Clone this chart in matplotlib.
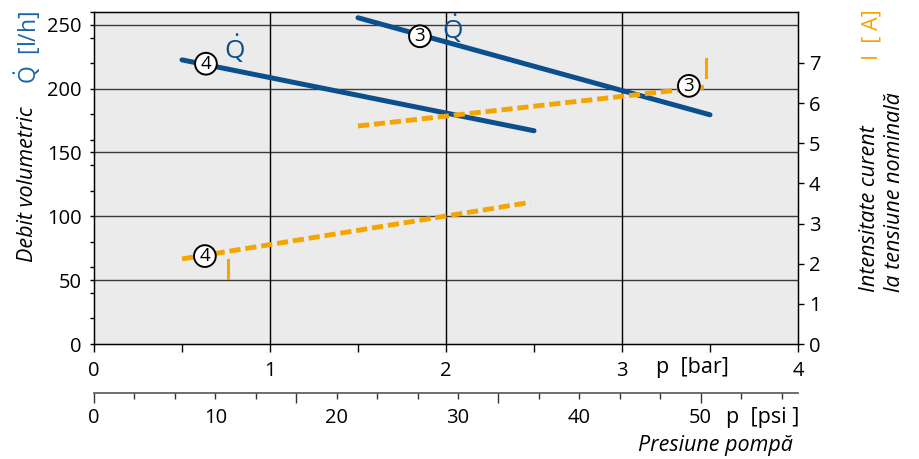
import numpy as np
import matplotlib
matplotlib.use('Agg')
import matplotlib.pyplot as plt
from matplotlib.ticker import FixedLocator, NullFormatter

plt.rcParams['font.family'] = ['Open Sans', 'DejaVu Sans']
plt.rcParams['mathtext.fontset'] = 'custom'
plt.rcParams['mathtext.rm'] = 'Open Sans'
plt.rcParams['mathtext.it'] = 'Open Sans:italic'

BLUE = '#0b4f8c'
ORANGE = '#f5a500'
GRAY_BG = '#ebebeb'
PSI_PER_BAR = 14.5038
TICK_FS = 14.5
LABEL_FS = 15.5

# Flow rate (l/h) vs pump pressure (bar), pumps 3 and 4
p_flow_3 = [1.5, 3.5]
flow_3 = [255.5, 179.5]
p_flow_4 = [0.5, 2.5]
flow_4 = [222.5, 167.0]

# Current (A) at nominal voltage
p_cur_3 = [1.5, 3.47]
cur_3 = [5.43, 6.40]
p_cur_4 = [0.5, 2.48]
cur_4 = [2.12, 3.53]

# Short vertical marks (max pressure)
p_mark_3 = [3.48, 3.48]
cur_mark_3 = [6.65, 7.10]
p_mark_4 = [0.76, 0.76]
cur_mark_4 = [1.64, 2.09]

# Axis ticks
flow_ticks = [0, 50, 100, 150, 200, 250]
cur_ticks = [0, 1, 2, 3, 4, 5, 6, 7]
bar_ticks = [0, 1, 2, 3, 4]
psi_labels = [0, 10, 20, 30, 40, 50]


def circle_label(ax, x, y, s):
    ax.text(x, y, s, fontsize=13.5, ha='center', va='center', zorder=6,
            bbox=dict(boxstyle='circle,pad=0.1', fc='white', ec='black', lw=1.4))


fig = plt.figure(figsize=(9.2, 4.59), dpi=100)
ax = fig.add_axes([94 / 920, 115 / 459, 704 / 920, 332 / 459])
ax.set_facecolor(GRAY_BG)
ax.set_xlim(0, 4)
ax.set_ylim(0, 260)

# grid
for v in flow_ticks[1:]:
    ax.axhline(v, color='#3a3a3a', lw=1.0, zorder=1)
for v in bar_ticks[1:-1]:
    ax.axvline(v, color='black', lw=1.0, zorder=1)

ax.plot(p_flow_3, flow_3, color=BLUE, lw=3.6, solid_capstyle='round', zorder=3)
ax.plot(p_flow_4, flow_4, color=BLUE, lw=3.6, solid_capstyle='round', zorder=3)

ax.set_yticks(flow_ticks)
ax.yaxis.set_minor_locator(FixedLocator(np.arange(0, 261, 20)))
ax.tick_params(axis='y', which='both', direction='out', length=3, width=1, pad=6,
               labelsize=TICK_FS)
ax.set_xticks(bar_ticks)
ax.xaxis.set_minor_locator(FixedLocator([0.5, 1.5, 2.5, 3.5]))
ax.tick_params(axis='x', which='both', direction='out', length=6, width=1, pad=6,
               labelsize=TICK_FS)
for sp in ax.spines.values():
    sp.set_linewidth(1.0)

# right axis: current
ax2 = ax.twinx()
ax2.set_ylim(0, 8.27)
ax2.plot(p_cur_3, cur_3, color=ORANGE, lw=3.5, dashes=(2.3, 1.0), zorder=4)
ax2.plot(p_cur_4, cur_4, color=ORANGE, lw=3.5, dashes=(2.3, 1.0), zorder=4)
ax2.plot(p_mark_3, cur_mark_3, color=ORANGE, lw=2.2, zorder=4)
ax2.plot(p_mark_4, cur_mark_4, color=ORANGE, lw=2.2, zorder=4)
ax2.set_yticks(cur_ticks)
ax2.tick_params(axis='y', direction='out', length=4, width=1, pad=4, labelsize=TICK_FS)

# circled curve numbers and Q-dot symbols
circle_label(ax, 0.636, 219.5, '4')
circle_label(ax, 1.852, 241, '3')
circle_label(ax2, 0.63, 2.19, '4')
circle_label(ax2, 3.38, 6.43, '3')
ax.text(0.80, 231, r'$\dot{\mathrm{Q}}$', color=BLUE, fontsize=19, ha='center', va='center')
ax.text(2.035, 247, r'$\dot{\mathrm{Q}}$', color=BLUE, fontsize=19, ha='center', va='center')

# psi axis underneath
sec = ax.secondary_xaxis((344 - 393) / 332,
                         functions=(lambda b: b * PSI_PER_BAR, lambda p: p / PSI_PER_BAR))
sec.xaxis.set_major_locator(FixedLocator(np.arange(0, 51, 50 / 3)))
sec.xaxis.set_minor_locator(FixedLocator(np.arange(0, 58, 10 / 3)))
sec.xaxis.set_major_formatter(NullFormatter())
sec.tick_params(axis='x', which='major', length=7, width=1, color='#333333')
sec.tick_params(axis='x', which='minor', length=4, width=1, color='#333333')
sec.spines['bottom'].set_color('#555555')
sec.spines['bottom'].set_linewidth(1.2)
trans = ax.get_xaxis_transform()
for v in psi_labels:
    ax.text(v / PSI_PER_BAR, (344 - 418) / 332, str(v), transform=trans,
            ha='center', va='center', fontsize=TICK_FS)

# axis titles
ax.text(3.4, (344 - 367) / 332, 'p  [bar]', transform=trans, ha='center', va='center',
        fontsize=LABEL_FS)
ax.text(4.01, (344 - 418) / 332, 'p  [psi ]', transform=trans, ha='right', va='center',
        fontsize=LABEL_FS)
ax.text(3.97, (344 - 446) / 332, 'Presiune pompă', transform=trans, ha='right', va='center',
        fontsize=LABEL_FS, style='italic')

fig.text(28 / 920, 1 - 47 / 459, r'$\dot{\mathrm{Q}}$  [l/h]', color='#1a64a8', rotation=90,
         ha='center', va='center', fontsize=16.5)
fig.text(28 / 920, 1 - 262 / 459, 'Debit volumetric', rotation=90, ha='center', va='bottom',
         fontsize=LABEL_FS, style='italic')
fig.text(872 / 920, 1 - 35 / 459, 'I  [ A]', color=ORANGE, rotation=90, ha='center',
         va='center', fontsize=LABEL_FS)
fig.text(882 / 920, 1 - 292 / 459, 'Intensitate curent\nla tensiune nominală', rotation=90,
         ha='center', va='bottom', fontsize=LABEL_FS, style='italic', multialignment='left',
         linespacing=1.3)

fig.savefig('out.png', dpi=100)
